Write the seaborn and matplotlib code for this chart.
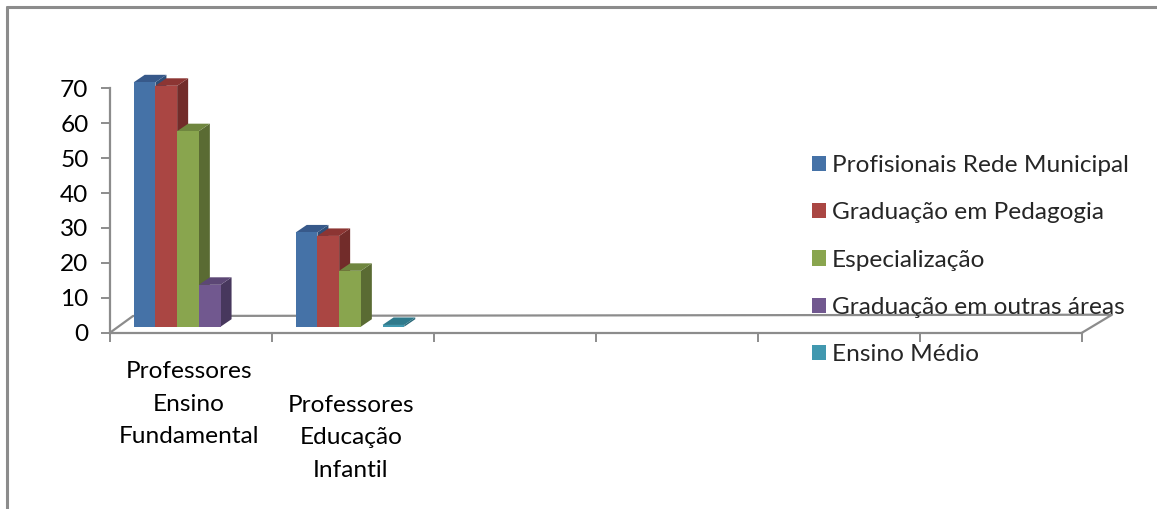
import numpy as np
import pandas as pd
import matplotlib
matplotlib.use("Agg")
import matplotlib.pyplot as plt
import matplotlib.transforms as mtransforms
from matplotlib.patches import Polygon, Patch
from matplotlib.lines import Line2D
import seaborn as sns

# --- data -------------------------------------------------------------
categorias = ["Professores\nEnsino\nFundamental", "Professores\nEducação\nInfantil"]
series = ["Profisionais Rede Municipal", "Graduação em Pedagogia", "Especialização",
          "Graduação em outras áreas", "Ensino Médio"]
ensino_fundamental = [70, 69, 56, 12, np.nan]
educacao_infantil = [27, 26, 16, np.nan, 0.5]
y_ticks = [0, 10, 20, 30, 40, 50, 60, 70]
n_slots = 6  # category slots on the floor (only the first two hold data)

# --- colours (front / side / top faces) --------------------------------
front = ["#4572A7", "#AA4643", "#89A54E", "#71588F", "#4198AF"]
side = ["#2E4F78", "#722C2A", "#5A6B33", "#47375D", "#2A6878"]
top = ["#37598A", "#8C3533", "#6F863F", "#5C4775", "#2F7A8C"]
grey = "#8C8C8C"

df = pd.DataFrame({
    "categoria": np.repeat(categorias, len(series)),
    "serie": series * len(categorias),
    "valor": ensino_fundamental + educacao_infantil,
})

sns.set_theme(style="white")
plt.rcParams["font.family"] = ["Lato", "DejaVu Sans"]
FS = 17.6

W, H = 1157, 509
fig = plt.figure(figsize=(W / 100, H / 100), dpi=100)
# axes box in pixels: x 110..1082, y 0 at 332.7, 70 at 88.3
ax_l, ax_r, ax_b, ax_t = 110, 1082, 332.7, 88.3
ax = fig.add_axes([ax_l / W, (H - ax_b) / H, (ax_r - ax_l) / W, (ax_b - ax_t) / H])
ax.set_facecolor("none")

sns.barplot(data=df, x="categoria", y="valor", hue="serie", order=categorias,
            hue_order=series, palette=front, width=0.67, saturation=1,
            legend=False, ax=ax, errorbar=None)
ax.set_xlim(-0.5, n_slots - 0.5)
ax.set_ylim(0, 70)

px_x = (ax_r - ax_l) / n_slots       # pixels per category
px_y = (ax_b - ax_t) / 70            # pixels per value unit
depth_dx, depth_dy = 11 / px_x, 7.5 / px_y
shift = ax.transData + mtransforms.ScaledTranslation(-3 / 100, 6 / 100, fig.dpi_scale_trans)

# --- 3D faces for each bar ----------------------------------------------
for i, cont in enumerate(ax.containers):
    for bar in cont:
        h = bar.get_height()
        if not np.isfinite(h):
            bar.set_visible(False)
            continue
        x0 = bar.get_x()
        x1 = x0 + bar.get_width()
        bar.set_transform(shift)
        bar.set_edgecolor("none")
        bar.set_clip_on(False)
        bar.set_zorder(3 + i * 0.1)
        side_face = Polygon([(x1, 0), (x1 + depth_dx, depth_dy), (x1 + depth_dx, h + depth_dy), (x1, h)],
                            closed=True, facecolor=side[i], edgecolor="none",
                            transform=shift, zorder=2.95 + i * 0.1, clip_on=False)
        top_face = Polygon([(x0, h), (x0 + depth_dx, h + depth_dy), (x1 + depth_dx, h + depth_dy), (x1, h)],
                           closed=True, facecolor=top[i], edgecolor="none",
                           transform=shift, zorder=2.95 + i * 0.1, clip_on=False)
        ax.add_patch(side_face)
        ax.add_patch(top_face)

# --- axes, floor and ticks ----------------------------------------------
for s in ["top", "right"]:
    ax.spines[s].set_visible(False)
for s in ["left", "bottom"]:
    ax.spines[s].set_color(grey)
    ax.spines[s].set_linewidth(1.6)

ax.set_yticks(y_ticks)
ax.set_yticklabels([str(v) for v in y_ticks], fontsize=FS, color="black")
ax.set_xticks(np.arange(-0.5, n_slots, 1.0))
ax.set_xticklabels([])
ax.tick_params(axis="both", direction="out", length=6.5, width=1.4, color=grey,
               left=True, bottom=True)
ax.tick_params(axis="y", pad=9)
ax.set_xlabel("")
ax.set_ylabel("")
ax.grid(False)

# floor edges (back edge and the two diagonals)
aw, ah = ax_r - ax_l, ax_b - ax_t
floor = [(0, 0), (23 / aw, 16.7 / ah), (1 + 30 / aw, 18 / ah), (1, 0)]
ax.add_line(Line2D([p[0] for p in floor], [p[1] for p in floor], color=grey, lw=1.6,
                   transform=ax.transAxes, clip_on=False, zorder=1))

# category labels below the floor, second one dropped by one line
for i, lab in enumerate(categorias):
    ax.annotate(lab, xy=(i, 0), xycoords=("data", "axes fraction"),
                xytext=(-1.5, -20.5 - i * 24.0), textcoords="offset points",
                ha="center", va="top", fontsize=FS, linespacing=1.68, color="black")

# --- legend ------------------------------------------------------------
handles = [Patch(facecolor=c, edgecolor="none") for c in front]
fig.legend(handles, series, loc="upper left", bbox_to_anchor=(802 / W, 1 - 145 / H),
           frameon=False, fontsize=FS, handlelength=0.58, handleheight=0.58,
           handletextpad=0.25, labelspacing=1.08, borderaxespad=0)

# --- chart frame (left and top edges) -----------------------------------
fig.add_artist(Line2D([7 / W, 7 / W], [0, 1 - 7 / H], color=grey, lw=2.2, transform=fig.transFigure))
fig.add_artist(Line2D([7 / W, 1], [1 - 7 / H, 1 - 7 / H], color=grey, lw=2.2, transform=fig.transFigure))

fig.savefig("out.png", dpi=100, facecolor="white")
